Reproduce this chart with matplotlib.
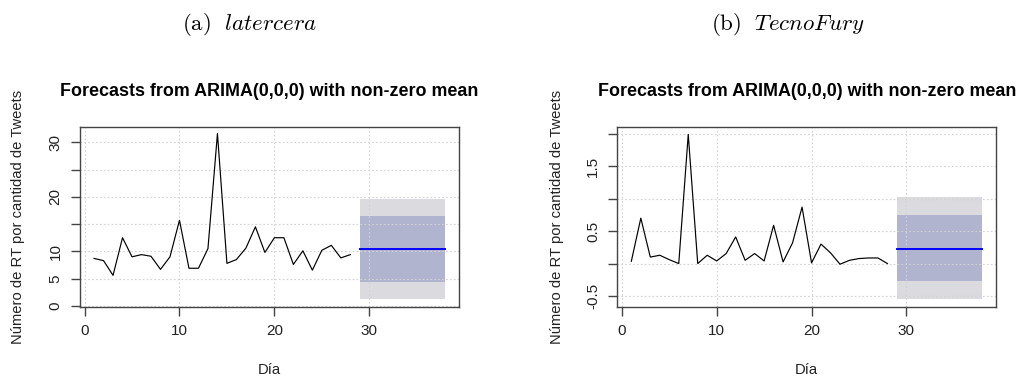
import matplotlib
matplotlib.use("Agg")
import matplotlib.pyplot as plt

# ---------------- data ----------------
dias = [1, 2, 3, 4, 5, 6, 7, 8, 9, 10, 11, 12, 13, 14,
        15, 16, 17, 18, 19, 20, 21, 22, 23, 24, 25, 26, 27, 28]

latercera = [8.7, 8.3, 5.6, 12.5, 9.0, 9.4, 9.1, 6.7, 9.0, 15.7, 6.9, 6.9, 10.5, 31.6,
             7.8, 8.5, 10.6, 14.5, 9.8, 12.5, 12.5, 7.6, 10.1, 6.55, 10.2, 11.1, 8.8, 9.4]

tecnofury = [0.035, 0.70, 0.10, 0.128, 0.06, 0.0, 1.99, 0.0, 0.128, 0.04, 0.154, 0.41, 0.05, 0.154,
             0.04, 0.59, 0.025, 0.32, 0.87, 0.01, 0.30, 0.165, -0.01, 0.05, 0.077, 0.086, 0.086, 0.0]

forecast_dias = [29, 38]
# mean, lo80, hi80, lo95, hi95
fc_latercera = dict(mean=10.35, lo80=4.4, hi80=16.5, lo95=1.28, hi95=19.6)
fc_tecnofury = dict(mean=0.23, lo80=-0.273, hi80=0.75, lo95=-0.546, hi95=1.02)

x_ticks = [0, 10, 20, 30]
y_ticks_a = [0, 5, 10, 15, 20, 25, 30]
y_labels_a = ["0", "5", "10", "", "20", "", "30"]
y_ticks_b = [-0.5, 0.0, 0.5, 1.0, 1.5, 2.0]
y_labels_b = ["-0.5", "", "0.5", "", "1.5", ""]

panel_titles = [r"$\mathrm{(a)}\ \ latercera$", r"$\mathrm{(b)}\ \ TecnoFury$"]
main_title = "Forecasts from ARIMA(0,0,0) with non-zero mean"
ylab = "Número de RT por cantidad de Tweets"
xlab = "Día"

# ---------------- style ----------------
plt.rcParams["font.family"] = ["Liberation Sans", "DejaVu Sans"]
plt.rcParams["mathtext.fontset"] = "cm"

W, H = 1017, 377
fig = plt.figure(figsize=(W / 100, H / 100), dpi=100)

panels = [
    dict(left=80, right=459.3, y=latercera, fc=fc_latercera, yt=y_ticks_a, yl=y_labels_a,
         ylim=(-0.15, 32.75), ylabx=18, ptx=250),
    dict(left=617.3, right=996.3, y=tecnofury, fc=fc_tecnofury, yt=y_ticks_b, yl=y_labels_b,
         ylim=(-0.665, 2.10), ylabx=557, ptx=788),
]

top_px, bot_px = 127.3, 306.7
col95 = "#DBDBDF"
col80 = "#B0B4CF"
axcol = "#444444"

for i, p in enumerate(panels):
    ax = fig.add_axes([p["left"] / W, 1 - bot_px / H, (p["right"] - p["left"]) / W, (bot_px - top_px) / H])
    fc = p["fc"]
    ax.fill_between(forecast_dias, [fc["lo95"]] * 2, [fc["hi95"]] * 2, color=col95, lw=0, zorder=1)
    ax.fill_between(forecast_dias, [fc["lo80"]] * 2, [fc["hi80"]] * 2, color=col80, lw=0, zorder=1.5)
    ax.plot(dias, p["y"], color="black", lw=0.85, zorder=3)
    ax.plot(forecast_dias, [fc["mean"]] * 2, color="#0000FF", lw=1.4, zorder=4)

    ax.set_xlim(-0.48, 39.48)
    ax.set_ylim(*p["ylim"])
    ax.set_xticks(x_ticks)
    ax.set_xticklabels([str(t) for t in x_ticks])
    ax.set_yticks(p["yt"])
    ax.set_yticklabels(p["yl"], rotation=90, va="center")

    for t in x_ticks:
        ax.axvline(t, color="#D3D3D3", lw=0.8, ls=(0, (1.5, 2)), zorder=2)
    for t in p["yt"]:
        ax.axhline(t, color="#D3D3D3", lw=0.8, ls=(0, (1.5, 2)), zorder=2)

    for s in ax.spines.values():
        s.set_color(axcol)
        s.set_linewidth(1.0)
    ax.tick_params(axis="both", direction="out", length=6.5, width=1.0, color=axcol,
                   labelsize=11, labelcolor="#222222")
    ax.tick_params(axis="x", pad=6)
    ax.tick_params(axis="y", pad=6)

    cx = (p["left"] + p["right"]) / 2
    fig.text(cx / W, 1 - 91.7 / H, main_title, ha="center", va="center",
             fontsize=12.85, fontweight="bold", color="black")
    fig.text(p["ylabx"] / W, 1 - 216.5 / H, ylab, rotation=90, ha="center", va="center",
             fontsize=10.6, color="#222222")
    fig.text(cx / W, 1 - 370 / H, xlab, ha="center", va="center", fontsize=10.6, color="#222222")
    fig.text(p["ptx"] / W, 1 - 25 / H, panel_titles[i], ha="center", va="center",
             fontsize=16.5, color="black")

fig.savefig("out.png", dpi=100)
